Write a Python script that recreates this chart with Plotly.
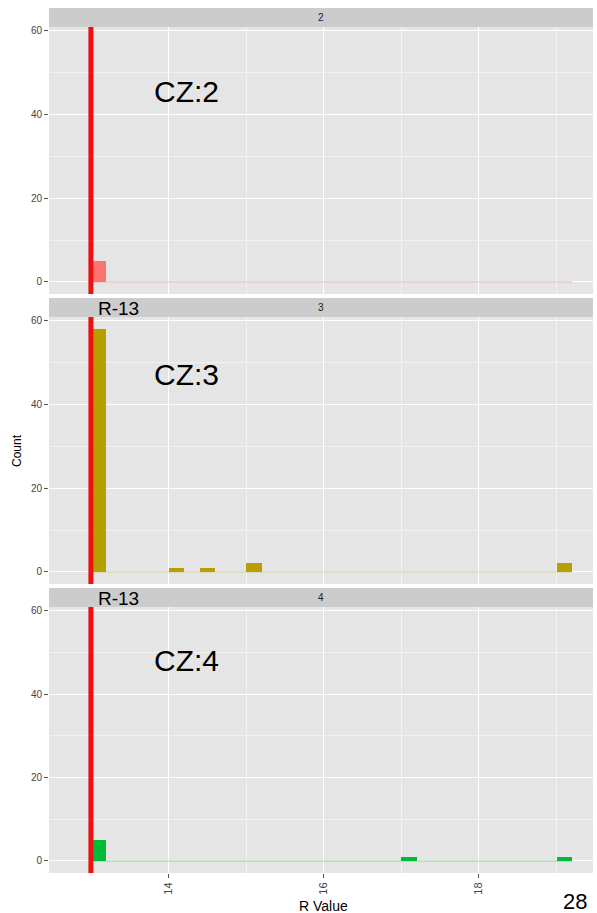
import plotly.graph_objects as go

# ---------------- data ----------------
R_THRESHOLD = 13
BIN_WIDTH = 0.2
BIN_FIRST_EDGE = 13.0
BIN_LAST_EDGE = 19.2

panel_labels = ["2", "3", "4"]
panel_titles = ["CZ:2", "CZ:3", "CZ:4"]
panel_colors = ["#F8766D", "#B79F00", "#00BA38"]
zero_colors = ["rgba(248,118,109,0.35)", "rgba(183,159,0,0.30)", "rgba(0,186,56,0.30)"]

cz2_x = [13.1]
cz2_count = [5]
cz3_x = [13.1, 14.1, 14.5, 15.1, 19.1]
cz3_count = [58, 1, 1, 2, 2]
cz4_x = [13.1, 17.1, 19.1]
cz4_count = [5, 1, 1]

x_ticks = [14, 16, 18]
y_ticks = [0, 20, 40, 60]
threshold_label = "R-13"
x_title = "R Value"
y_title = "Count"
page_number = "28"

series_x = [cz2_x, cz3_x, cz4_x]
series_y = [cz2_count, cz3_count, cz4_count]

# ---------------- geometry ----------------
W, H = 597, 913
L, R, T, B = 49, 4, 8, 40


def py(p):
    return (H - B - p) / (H - T - B)


def px(p):
    return (p - L) / (W - L - R)


panels = [(27, 294), (317, 584), (607, 873)]
strips = [(8, 27), (298, 317), (588, 607)]
cz_label_y = [91, 374, 660]
rlabel_y = [308, 598]

XR = [12.46, 19.47]
YR = [-2.9, 60.9]
FONT = "Liberation Sans, Arial, sans-serif"

fig = go.Figure()
for i in range(3):
    xa = "x" if i == 0 else f"x{i+1}"
    ya = "y" if i == 0 else f"y{i+1}"
    fig.add_trace(go.Scatter(
        x=[BIN_FIRST_EDGE, BIN_LAST_EDGE], y=[0, 0], mode="lines",
        line=dict(color=zero_colors[i], width=1.5),
        hoverinfo="skip", showlegend=False, xaxis=xa, yaxis=ya))
    fig.add_trace(go.Bar(
        x=series_x[i], y=series_y[i], width=BIN_WIDTH,
        marker=dict(color=panel_colors[i], line=dict(width=0)),
        showlegend=False, xaxis=xa, yaxis=ya))

layout = dict(
    width=W, height=H,
    margin=dict(l=L, r=R, t=T, b=B, pad=0),
    paper_bgcolor="white", plot_bgcolor="#E5E5E5",
    bargap=0, showlegend=False,
    font=dict(family=FONT, color="#222"),
)

shapes = []
annotations = []
for i in range(3):
    xk = "xaxis" if i == 0 else f"xaxis{i+1}"
    yk = "yaxis" if i == 0 else f"yaxis{i+1}"
    yref = "y" if i == 0 else f"y{i+1}"
    xref = "x" if i == 0 else f"x{i+1}"
    top, bot = panels[i]
    layout[xk] = dict(
        domain=[0, 1], range=XR, anchor=yref,
        tickvals=x_ticks, ticktext=[str(v) for v in x_ticks],
        showticklabels=(i == 2), ticks="outside" if i == 2 else "",
        ticklen=4, tickcolor="#555", tickwidth=1,
        tickangle=-90, tickfont=dict(size=11, color="#444", family=FONT),
        showgrid=True, gridcolor="white", gridwidth=1.3,
        minor=dict(tick0=13, dtick=2, showgrid=True, gridcolor="#F2F2F2", gridwidth=0.7),
        zeroline=False, showline=False, fixedrange=True,
    )
    if i < 2:
        layout[xk]["matches"] = "x3"
    layout[yk] = dict(
        domain=[py(bot), py(top)], range=YR, anchor=xref,
        tickvals=y_ticks, ticktext=[str(v) for v in y_ticks],
        ticks="outside", ticklen=4, tickcolor="#555", tickwidth=1,
        tickfont=dict(size=10, color="#444", family=FONT),
        showgrid=True, gridcolor="white", gridwidth=1.3,
        minor=dict(tick0=10, dtick=20, showgrid=True, gridcolor="#F2F2F2", gridwidth=0.7),
        zeroline=True, zerolinecolor="white", zerolinewidth=1.3,
        showline=False, fixedrange=True,
    )
    # threshold line
    shapes.append(dict(type="line", xref=xref, yref=f"{yref} domain",
                       x0=R_THRESHOLD, x1=R_THRESHOLD, y0=0, y1=1,
                       line=dict(color="#EE1111", width=5), layer="above"))
    # strip
    s0, s1 = strips[i]
    shapes.append(dict(type="rect", xref="paper", yref="paper",
                       x0=0, x1=1, y0=py(s1), y1=py(s0),
                       fillcolor="#CCCCCC", line=dict(width=0), layer="below"))
    annotations.append(dict(text=panel_labels[i], xref="paper", yref="paper",
                            x=0.5, y=py((s0 + s1) / 2), xanchor="center", yanchor="middle",
                            showarrow=False, font=dict(size=10, color="#1A1A1A", family=FONT)))
    annotations.append(dict(text=panel_titles[i], xref="paper", yref="paper",
                            x=px(152), y=py(cz_label_y[i]), xanchor="left", yanchor="middle",
                            showarrow=False, font=dict(size=30, color="black", family=FONT)))

for ry in rlabel_y:
    annotations.append(dict(text=threshold_label, xref="paper", yref="paper",
                            x=px(96), y=py(ry), xanchor="left", yanchor="middle",
                            showarrow=False, font=dict(size=19, color="black", family=FONT)))

annotations.append(dict(text=y_title, xref="paper", yref="paper", x=px(17), y=py(451),
                        xanchor="center", yanchor="middle", textangle=-90, showarrow=False,
                        font=dict(size=12, color="black", family=FONT)))
annotations.append(dict(text=x_title, xref="paper", yref="paper", x=px(323), y=py(906),
                        xanchor="center", yanchor="middle", showarrow=False,
                        font=dict(size=14, color="black", family=FONT)))
annotations.append(dict(text=page_number, xref="paper", yref="paper", x=px(589), y=py(901),
                        xanchor="right", yanchor="middle", showarrow=False,
                        font=dict(size=22, color="black", family=FONT)))

layout["shapes"] = shapes
layout["annotations"] = annotations
fig.update_layout(**layout)
fig.write_html(
    "out.html",
    config={"displayModeBar": False},
    post_script="document.body.style.margin='0px';document.body.style.overflow='hidden';",
)
